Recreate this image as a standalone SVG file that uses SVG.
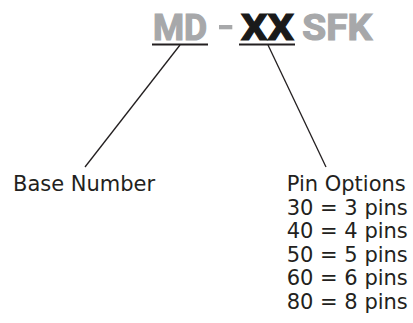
<svg xmlns="http://www.w3.org/2000/svg" width="413" height="323" viewBox="0 0 413 323">
<style>
.t{font-family:Roboto,"Liberation Sans",sans-serif;font-weight:700;font-size:36px;stroke-width:1.2;stroke-linejoin:miter}
.g{fill:#a7a8aa;stroke:#a7a8aa}
.k{fill:#1a1a1a;stroke:#1a1a1a}
.lbl{font-family:"DejaVu Sans",Verdana,sans-serif;font-size:21px;fill:#231f20}
.ln{stroke:#231f20;stroke-width:1.3;fill:none}
.ul{stroke:#231f20;stroke-width:1.8;fill:none}
</style>
<rect width="413" height="323" fill="#fff"/>
<g id="title">
<text class="t g" x="152.9" y="39.6" textLength="54.2" lengthAdjust="spacingAndGlyphs">MD</text>
<rect fill="#a7a8aa" x="219" y="25" width="13.3" height="4.3"/>
<text class="t k" x="241.1" y="39.6" textLength="52.8" lengthAdjust="spacingAndGlyphs">XX</text>
<text class="t g" x="302.3" y="39.6" textLength="69.8" lengthAdjust="spacingAndGlyphs">SFK</text>
</g>
<g id="base-number">
<text class="lbl" x="13" y="191">Base Number</text>
</g>
<g id="pin-options">
<text class="lbl" x="286.7" y="191">Pin Options</text>
<text class="lbl" x="286.7" y="214.5">30 = 3 pins</text>
<text class="lbl" x="286.7" y="238">40 = 4 pins</text>
<text class="lbl" x="286.7" y="261.5">50 = 5 pins</text>
<text class="lbl" x="286.7" y="285">60 = 6 pins</text>
<text class="lbl" x="286.7" y="308.5">80 = 8 pins</text>
</g>
<g id="connectors">
<line class="ul" x1="152" y1="44.5" x2="208" y2="44.5"/>
<line class="ul" x1="239" y1="44.5" x2="295" y2="44.5"/>
<line class="ln" x1="180" y1="45" x2="85" y2="167"/>
<line class="ln" x1="268" y1="45" x2="326" y2="167"/>
</g>
</svg>
